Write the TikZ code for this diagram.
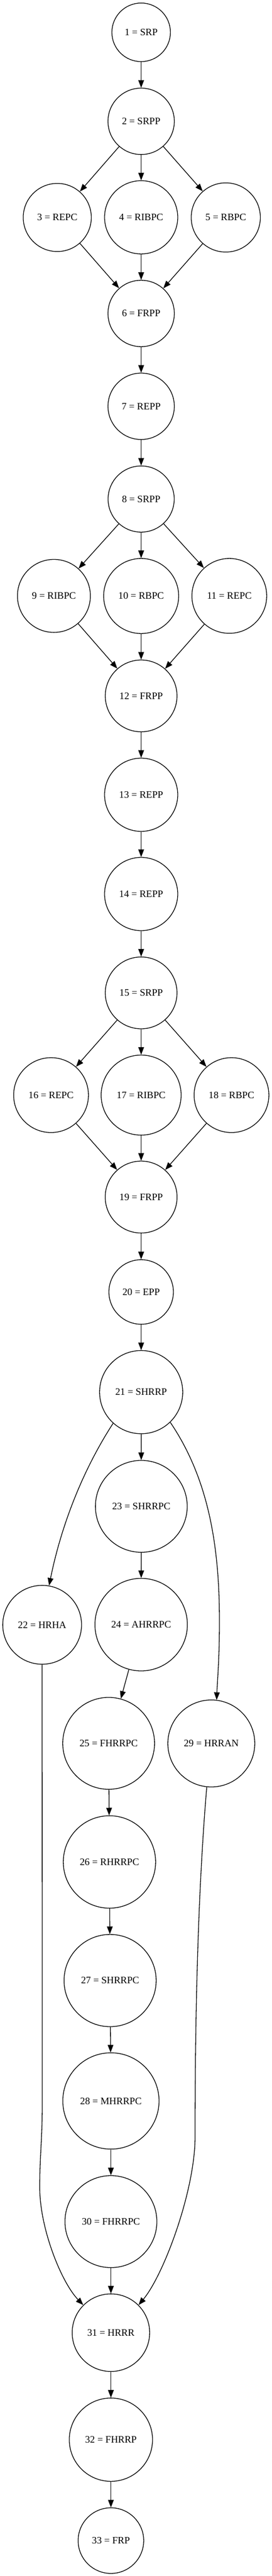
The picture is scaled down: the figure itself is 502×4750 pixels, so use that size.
\documentclass[tikz,border=0pt]{standalone}
\usepackage{fontspec}
\setmainfont{Liberation Serif}
\usetikzlibrary{arrows.meta}
\begin{document}
\begin{tikzpicture}[x=1pt,y=-1pt,
  st/.style={circle,draw,line width=1.3pt,inner sep=0pt,font=\fontsize{18.2pt}{22pt}\selectfont},
  ar/.style={line width=1.3pt,-{Triangle[length=14pt,width=10.5pt]}}]
\useasboundingbox (0,0) rectangle (502,4750);
\node[st,minimum size=108pt]   (n1)  at (260.5,59.6)  {1 = SRP};
\node[st,minimum size=122.4pt] (n2)  at (260.5,223.7) {2 = SRPP};
\node[st,minimum size=125.6pt] (n3)  at (105.7,401)   {3 = REPC};
\node[st,minimum size=135pt]   (n4)  at (260.5,400.7) {4 = RIBPC};
\node[st,minimum size=127.6pt] (n5)  at (416.7,401)   {5 = RBPC};
\node[st,minimum size=122.4pt] (n6)  at (260.5,578)   {6 = FRPP};
\node[st,minimum size=122.4pt] (n7)  at (260.5,749.2) {7 = REPP};
\node[st,minimum size=122pt]   (n8)  at (260.5,920.2) {8 = SRPP};
\node[st,minimum size=134.6pt] (n9)  at (99.5,1098.8) {9 = RIBPC};
\node[st,minimum size=138.4pt] (n10) at (260.5,1099)  {10 = RBPC};
\node[st,minimum size=138pt]   (n11) at (423.2,1098.8){11 = REPC};
\node[st,minimum size=132.4pt] (n12) at (260.5,1283.2){12 = FRPP};
\node[st,minimum size=135pt]   (n13) at (260.5,1465.5){13 = REPP};
\node[st,minimum size=135pt]   (n14) at (260.5,1648.5){14 = REPP};
\node[st,minimum size=132.4pt] (n15) at (260.5,1830.8){15 = SRPP};
\node[st,minimum size=138pt]   (n16) at (94.2,2019.3) {16 = REPC};
\node[st,minimum size=147.6pt] (n17) at (260.5,2019.3){17 = RIBPC};
\node[st,minimum size=138pt]   (n18) at (427.2,2019.3){18 = RBPC};
\node[st,minimum size=132.6pt] (n19) at (260.5,2207.3){19 = FRPP};
\node[st,minimum size=119pt]   (n20) at (260.5,2382.3){20 = EPP};
\node[st,minimum size=153.4pt] (n21) at (260.5,2567)  {21 = SHRRP};
\node[st,minimum size=145.4pt] (n22) at (77.8,2996)   {22 = HRHA};
\node[st,minimum size=169.4pt] (n23) at (260.8,2777.6){23 = SHRRPC};
\node[st,minimum size=170.6pt] (n24) at (260.5,2995.7){24 = AHRRPC};
\node[st,minimum size=169.4pt] (n25) at (200.5,3214.6){25 = FHRRPC};
\node[st,minimum size=160.4pt] (n29) at (390,3214.8)  {29 = HRRAN};
\node[st,minimum size=170.4pt] (n26) at (202,3433.3)  {26 = RHRRPC};
\node[st,minimum size=170pt]   (n27) at (203.2,3652)  {27 = SHRRPC};
\node[st,minimum size=177.6pt] (n28) at (204.7,3874)  {28 = MHRRPC};
\node[st,minimum size=169.6pt] (n30) at (204.7,4096.5){30 = FHRRPC};
\node[st,minimum size=143pt]   (n31) at (204.7,4301.3){31 = HRRR};
\node[st,minimum size=153.6pt] (n32) at (204.7,4498.6){32 = FHRRP};
\node[st,minimum size=121pt]   (n33) at (204.7,4684.7){33 = FRP};
\foreach \a/\b in {n1/n2,n2/n3,n2/n4,n2/n5,n3/n6,n4/n6,n5/n6,n6/n7,n7/n8,
  n8/n9,n8/n10,n8/n11,n9/n12,n10/n12,n11/n12,n12/n13,n13/n14,n14/n15,
  n15/n16,n15/n17,n15/n18,n16/n19,n17/n19,n18/n19,n19/n20,n20/n21,
  n21/n23,n23/n24,n24/n25,n25/n26,n26/n27,n27/n28,n28/n30,n30/n31,n31/n32,n32/n33}
  \draw[ar] (\a) -- (\b);
\draw[ar] (n21.228) .. controls (150,2715) and (112,2818) .. (n22.80.5);
\draw[ar] (n21.314) .. controls (388,2731) and (405,2860) .. (405,2990)
  .. controls (405,3060) and (401,3100) .. (n29.83);
\draw[ar] (n22.south) -- (78,3880) .. controls (78,3945) and (73.3,3975) .. (73.3,4033)
  .. controls (73.3,4110) and (113.7,4209) .. (n31.135.4);
\draw[ar] (n29.264) .. controls (366,3480) and (360,3700) .. (360,3940)
  .. controls (360,4040) and (302,4195) .. (n31.45.5);
\end{tikzpicture}
\end{document}
